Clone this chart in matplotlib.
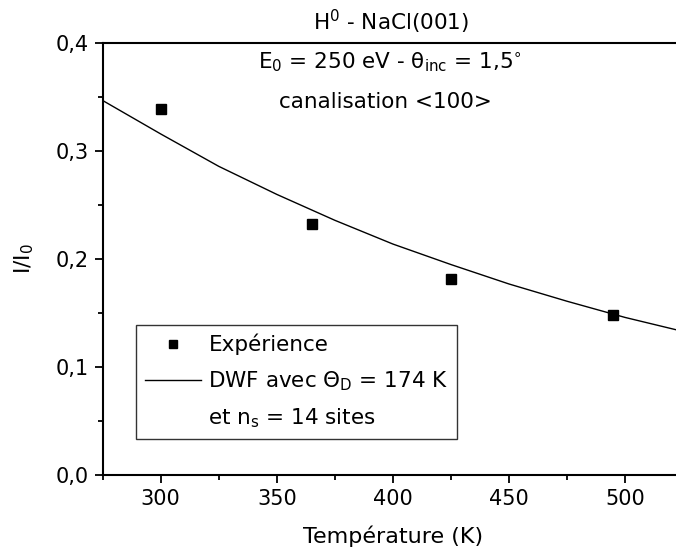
import matplotlib
matplotlib.use("Agg")
import matplotlib.pyplot as plt
from matplotlib.lines import Line2D
from matplotlib.ticker import FuncFormatter, MultipleLocator

# measured intensity ratio
temp_exp = [300, 365, 425, 495]
ratio_exp = [0.339, 0.233, 0.182, 0.148]

# DWF curve (theta_D = 174 K, n_s = 14)
temp_dwf = [275, 300, 325, 350, 375, 400, 425, 450, 475, 500, 525]
ratio_dwf = [0.347, 0.316, 0.286, 0.260, 0.236, 0.214, 0.195, 0.177, 0.161, 0.146, 0.133]

plt.rcParams["font.family"] = ["DejaVu Sans"]
plt.rcParams["mathtext.fontset"] = "dejavusans"

fig = plt.figure(figsize=(6.76, 5.56), dpi=100)
ax = fig.add_axes([0.1519, 0.1457, 0.8586, 0.7764])

ax.plot(temp_dwf, ratio_dwf, color="black", lw=1.0)
ax.plot(temp_exp, ratio_exp, ls="none", marker="s", ms=6.5, color="black")

ax.set_xlim(275, 525)
ax.set_ylim(0, 0.4)
ax.xaxis.set_major_locator(MultipleLocator(50))
ax.xaxis.set_minor_locator(MultipleLocator(25))
ax.yaxis.set_major_locator(MultipleLocator(0.1))
ax.yaxis.set_minor_locator(MultipleLocator(0.05))
ax.yaxis.set_major_formatter(FuncFormatter(lambda v, p: f"{v:.1f}".replace(".", ",")))

for s in ax.spines.values():
    s.set_linewidth(1.5)
ax.tick_params(which="both", direction="out", width=1.3, labelsize=15, pad=4)
ax.tick_params(which="major", length=6)
ax.tick_params(which="minor", length=3.5)

ax.set_xlabel("Température (K)", fontsize=16, labelpad=12)
ax.set_ylabel("I/I$_0$", fontsize=15.5, labelpad=14)

fig.text(0.578, 0.960, "H$^0$ - NaCl(001)", ha="center", va="center", fontsize=15.5)
fig.text(0.577, 0.888, r"E$_0$ = 250 eV - θ$_{\mathrm{inc}}$ = 1,5$^{\circ}$",
         ha="center", va="center", fontsize=15.5)
fig.text(0.570, 0.817, "canalisation <100>", ha="center", va="center", fontsize=15.5)

handles = [
    Line2D([], [], ls="none", marker="s", ms=5.5, color="black"),
    Line2D([], [], color="black", lw=1.0),
    Line2D([], [], ls="none"),
]
labels = ["Expérience", r"DWF avec Θ$_\mathrm{D}$ = 174 K", r"et n$_\mathrm{s}$ = 14 sites"]
leg = ax.legend(handles, labels, loc="upper left", bbox_to_anchor=(0.058, 0.347),
                frameon=True, fancybox=False, fontsize=15.5, handlelength=2.6,
                handletextpad=0.35, borderpad=0.4, labelspacing=0.65, borderaxespad=0)
leg.get_frame().set_edgecolor("black")
leg.get_frame().set_linewidth(1.0)

fig.savefig("out.png", dpi=100)
